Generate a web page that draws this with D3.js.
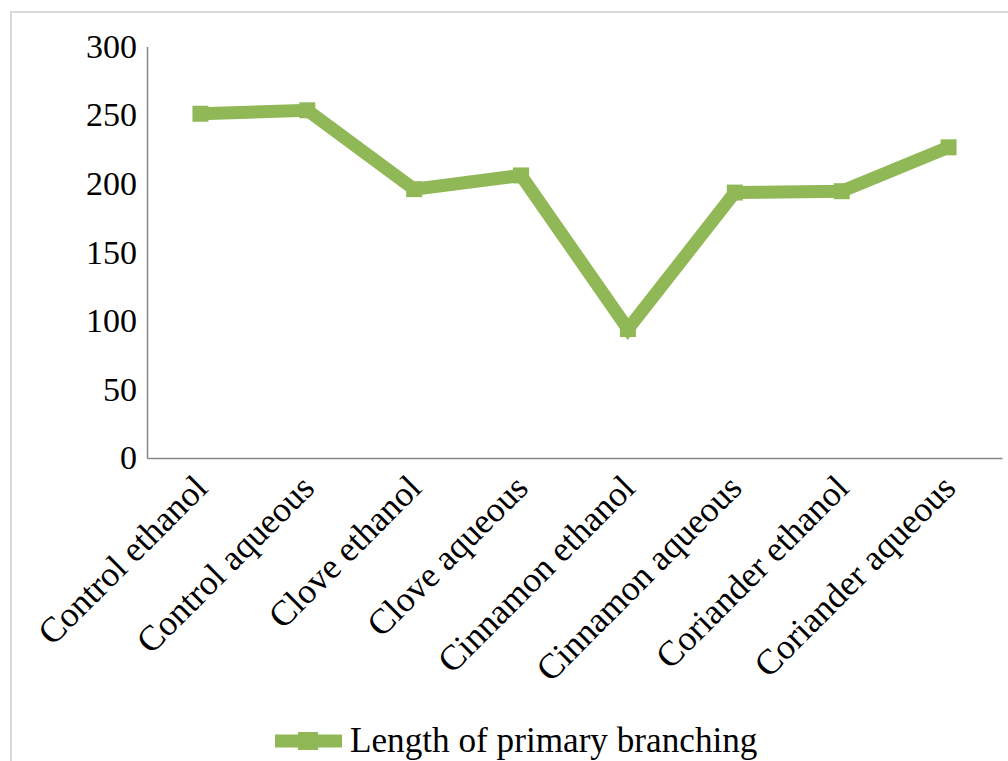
<!DOCTYPE html>
<html>
<head>
<meta charset="utf-8">
<script src="https://cdn.jsdelivr.net/npm/d3@7"></script>
<style>
html,body{margin:0;padding:0;background:#fff;}
svg{display:block;}
text{font-family:"Liberation Serif","Times New Roman",serif;fill:#000;}
</style>
</head>
<body>
<svg id="chart" width="1008" height="761"></svg>
<script>
const categories = ["Control ethanol","Control aqueous","Clove ethanol","Clove aqueous","Cinnamon ethanol","Cinnamon aqueous","Coriander ethanol","Coriander aqueous"];
const values = [251, 253.5, 196, 206, 94, 193.5, 194.5, 226.5];
const yTicks = [0, 50, 100, 150, 200, 250, 300];
const seriesName = "Length of primary branching";

(function () {
const color = "#91b856";
const svg = d3.select("#chart");

// outer border
svg.append("rect").attr("x", 11).attr("y", 12).attr("width", 1010).attr("height", 760)
  .attr("fill", "none").attr("stroke", "#d9d9d9").attr("stroke-width", 2);

const mLeft = 147, mRight = 1002, mTop = 46.5, mBottom = 458;
const x = d3.scaleBand().domain(categories).range([mLeft, mRight]);
const y = d3.scaleLinear().domain([0, 300]).range([mBottom, mTop]);

// y axis
const yAxis = svg.append("g").attr("transform", `translate(${mLeft},0)`)
  .call(d3.axisLeft(y).tickValues(yTicks).tickSize(0).tickPadding(10));
yAxis.select(".domain").attr("stroke", "#868686").attr("stroke-width", 1.5);
yAxis.selectAll("text").attr("font-size", 34).attr("font-family", "Liberation Serif").attr("fill", "#000");

// x axis
const xAxis = svg.append("g").attr("transform", `translate(0,${mBottom})`)
  .call(d3.axisBottom(x).tickSize(0).tickPadding(0));
xAxis.select(".domain").attr("stroke", "#868686").attr("stroke-width", 1.5);
xAxis.selectAll("text")
  .attr("font-size", 35.5).attr("font-family", "Liberation Serif").attr("fill", "#000")
  .attr("text-anchor", "end")
  .attr("dy", null).attr("y", 0)
  .attr("transform", "translate(9,32) rotate(-45)");

const cx = d => x(d) + x.bandwidth() / 2;
const line = d3.line().x((d, i) => cx(categories[i])).y(d => y(d));

svg.append("path").datum(values).attr("d", line)
  .attr("fill", "none").attr("stroke", color).attr("stroke-width", 13).attr("stroke-linejoin", "miter");

const ms = 16;
svg.selectAll("rect.mk").data(values).enter().append("rect").attr("class", "mk")
  .attr("x", (d, i) => cx(categories[i]) - ms / 2)
  .attr("y", d => y(d) - ms / 2)
  .attr("width", ms).attr("height", ms).attr("fill", color);

// legend
const lg = svg.append("g");
lg.append("line").attr("x1", 275).attr("x2", 342).attr("y1", 741).attr("y2", 741)
  .attr("stroke", color).attr("stroke-width", 13);
lg.append("rect").attr("x", 298).attr("y", 732).attr("width", 20).attr("height", 18).attr("fill", color);
lg.append("text").attr("x", 350).attr("y", 752).attr("font-size", 35.2).text(seriesName);
})();
</script>
</body>
</html>
